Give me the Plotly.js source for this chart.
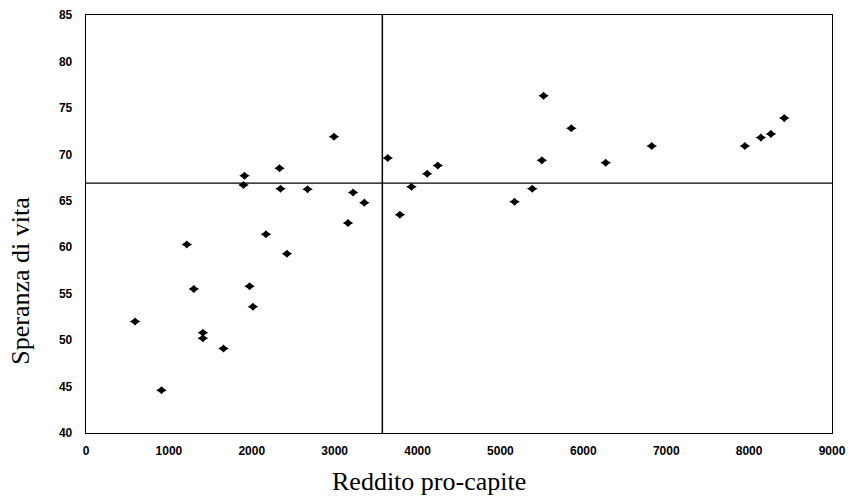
<!DOCTYPE html>
<html>
<head>
<meta charset="utf-8">
<script src="https://cdn.plot.ly/plotly-3.0.1.min.js"></script>
<style>
  html, body { margin: 0; padding: 0; background: #fff; }
  #chart { width: 852px; height: 499px; }
</style>
</head>
<body>
<div id="chart"></div>
<script>
// Reddito pro-capite (x) and Speranza di vita (y)
const reddito = [592, 910, 1216, 1301, 1410, 1410, 1659, 1900, 1912, 1973, 2014, 2171, 2335, 2347, 2424, 2673,
                 2992, 3161, 3222, 3358, 3640, 3787, 3926, 4116, 4244, 5170, 5384, 5500, 5521, 5855,
                 6270, 6825, 7949, 8142, 8263, 8424];
const speranza = [52.0, 44.6, 60.3, 55.5, 50.8, 50.2, 49.1, 66.7, 67.7, 55.8, 53.6, 61.4, 68.5, 66.3, 59.3, 66.25,
                  71.9, 62.6, 65.9, 64.8, 69.6, 63.5, 66.5, 67.9, 68.8, 64.9, 66.3, 69.35, 76.3, 72.8,
                  69.1, 70.9, 70.9, 71.8, 72.2, 73.9];
// Reference (quadrant) lines
const refReddito = 3575;
const refSperanza = 66.9;
const xTickVals = [0, 1000, 2000, 3000, 4000, 5000, 6000, 7000, 8000, 9000];
const yTickVals = [40, 45, 50, 55, 60, 65, 70, 75, 80, 85];
const xTitle = "Reddito pro-capite";
const yTitle = "Speranza di vita";

const tickFont = { family: "Liberation Sans, Arial, sans-serif", size: 12, color: "#000", weight: "bold" };
const titleFont = { family: "Liberation Serif, Times New Roman, serif", size: 26, color: "#000" };

// Two overlaid marker shapes give the flattened diamond of the original
const traceA = {
  type: "scatter", mode: "markers", x: reddito, y: speranza,
  marker: { symbol: "diamond", size: 6.2, color: "#000", line: { width: 0 } },
  hoverinfo: "skip"
};
const traceB = {
  type: "scatter", mode: "markers", x: reddito, y: speranza,
  marker: { symbol: "diamond-wide", size: 7.6, color: "#000", line: { width: 0 } },
  hoverinfo: "skip"
};

const layout = {
  width: 852,
  height: 499,
  margin: { l: 86, r: 20, t: 15, b: 66 },
  paper_bgcolor: "#fff",
  plot_bgcolor: "#fff",
  showlegend: false,
  xaxis: {
    range: [0, 9000],
    tickvals: xTickVals,
    ticktext: xTickVals.map(String),
    showgrid: false,
    zeroline: false,
    showline: true,
    mirror: true,
    linecolor: "#000",
    linewidth: 1.3,
    ticks: "",
    ticklabelstandoff: 6,
    tickfont: tickFont
  },
  yaxis: {
    range: [40, 85],
    tickvals: yTickVals,
    ticktext: yTickVals.map(String),
    showgrid: false,
    zeroline: false,
    showline: true,
    mirror: true,
    linecolor: "#000",
    linewidth: 1.3,
    ticks: "",
    ticklabelstandoff: 10,
    tickfont: tickFont
  },
  shapes: [
    { type: "line", xref: "x", yref: "paper", x0: refReddito, x1: refReddito, y0: 0, y1: 1,
      line: { color: "#000", width: 1.5 } },
    { type: "line", xref: "paper", yref: "y", x0: 0, x1: 1, y0: refSperanza, y1: refSperanza,
      line: { color: "#000", width: 1.3 } }
  ],
  annotations: [
    { text: xTitle, xref: "paper", yref: "paper", x: 0.46, y: -0.115, xanchor: "center", yanchor: "middle",
      showarrow: false, font: titleFont },
    { text: yTitle, xref: "paper", yref: "paper", x: -0.088, y: 0.365, xanchor: "center", yanchor: "middle",
      textangle: -90, showarrow: false, font: titleFont }
  ]
};

Plotly.newPlot("chart", [traceA, traceB], layout, { displayModeBar: false, staticPlot: true });
</script>
</body>
</html>
